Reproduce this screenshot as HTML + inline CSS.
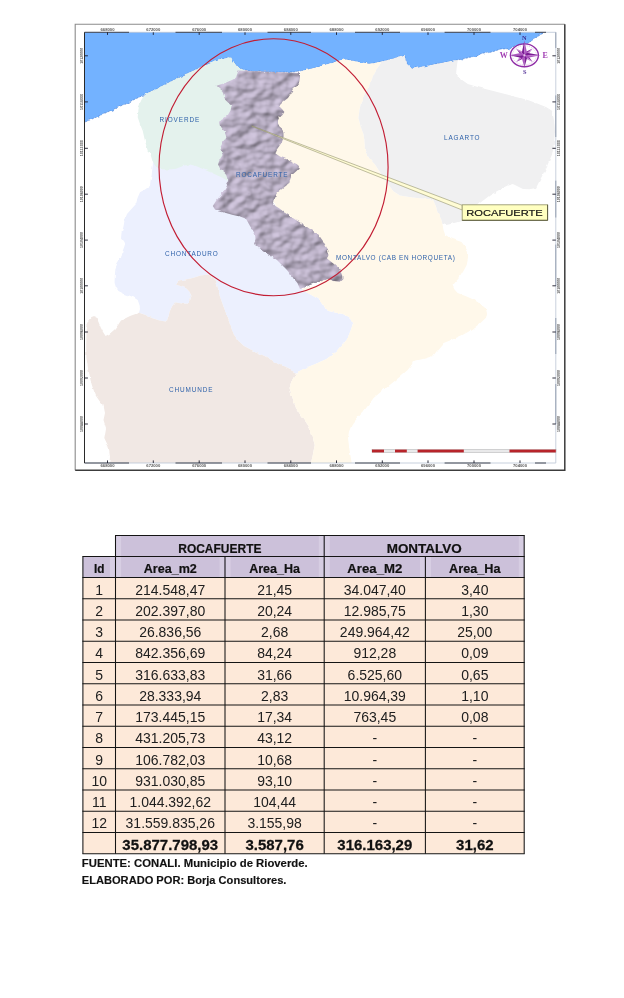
<!DOCTYPE html>
<html lang="es"><head><meta charset="utf-8"><title>ROCAFUERTE - MONTALVO</title>
<style>
html,body{margin:0;padding:0;background:#fff;}
body{width:624px;height:998px;overflow:hidden;position:relative;font-family:"Liberation Sans",sans-serif;}
svg{position:absolute;left:0;top:0;display:block;}
.lbl{font-family:"Liberation Sans",sans-serif;fill:#2f62aa;}
.tk{font-family:"Liberation Sans",sans-serif;fill:#3a3a3a;font-size:3.6px;font-weight:bold;opacity:0.85;}
.cp{font-family:"Liberation Serif",serif;font-weight:bold;}
.td{font-family:"Liberation Sans",sans-serif;font-size:14.8px;fill:#202020;}
.th{font-family:"Liberation Sans",sans-serif;font-size:12.8px;font-weight:bold;fill:#111;stroke:#111;stroke-width:0.2px;}
.tt{font-family:"Liberation Sans",sans-serif;font-size:14.4px;font-weight:bold;fill:#111;stroke:#111;stroke-width:0.25px;}
.ft{font-family:"Liberation Sans",sans-serif;font-size:11px;font-weight:bold;fill:#111;stroke:#111;stroke-width:0.15px;}
</style></head><body>
<svg width="624" height="998" viewBox="0 0 624 998">
<defs>
<filter id="hill" x="-5%" y="-5%" width="110%" height="110%" color-interpolation-filters="sRGB">
  <feTurbulence type="fractalNoise" baseFrequency="0.075 0.095" numOctaves="2" seed="11" result="n"/>
  <feColorMatrix in="n" type="matrix" values="0 0 0 0 0  0 0 0 0 0  0 0 0 0 0  0 0 0 1.0 0" result="na"/>
  <feTurbulence type="fractalNoise" baseFrequency="0.22" numOctaves="2" seed="9" result="t2"/>
  <feDisplacementMap in="SourceAlpha" in2="t2" scale="3.2" xChannelSelector="R" yChannelSelector="G" result="shape"/>
  <feGaussianBlur in="shape" stdDeviation="1.0" result="sa"/>
  <feComposite in="na" in2="sa" operator="arithmetic" k1="0" k2="1" k3="0.16" k4="0" result="h0"/>
  <feGaussianBlur in="h0" stdDeviation="0.7" result="h"/>
  <feDiffuseLighting in="h" surfaceScale="2.3" diffuseConstant="1.0" lighting-color="#d3c8e0" result="l">
    <feDistantLight azimuth="225" elevation="60"/>
  </feDiffuseLighting>
  <feGaussianBlur in="l" stdDeviation="0.5" result="lb"/>
  <feComposite in="lb" in2="shape" operator="in" result="c"/>
  <feGaussianBlur in="c" stdDeviation="0.35"/>
</filter>
<filter id="soft" x="-2%" y="-2%" width="104%" height="104%" color-interpolation-filters="sRGB">
  <feTurbulence type="fractalNoise" baseFrequency="0.14" numOctaves="2" seed="4" result="t"/>
  <feDisplacementMap in="SourceGraphic" in2="t" scale="3" xChannelSelector="R" yChannelSelector="G" result="d"/>
  <feGaussianBlur in="d" stdDeviation="0.55"/>
</filter>
<clipPath id="fr"><rect x="84.5" y="32.3" width="471.29999999999995" height="430.7"/></clipPath>
</defs>
<rect x="0" y="0" width="624" height="998" fill="#ffffff"/>

<g id="map">
<rect x="75.2" y="24.3" width="489.59999999999997" height="445.9" fill="#ffffff" stroke="none"/>
<path d="M75.2,470.2 L75.2,24.3 L564.8,24.3" fill="none" stroke="#8c8c8c" stroke-width="1.1"/>
<path d="M564.8,24.3 L564.8,470.2 L75.2,470.2" fill="none" stroke="#3c3c3c" stroke-width="1.5"/>
<g clip-path="url(#fr)" filter="url(#soft)">
<polygon points="76.5,125.9 76.5,24.3 553.0,24.3 545.0,32.3 540.0,34.9 533.5,39.5 527.7,43.4 521.0,44.6 514.0,46.2 510.0,48.7 500.8,48.9 495.0,51.0 491.4,52.0 478.0,55.5 464.4,58.6 451.0,61.3 437.5,63.7 424.0,66.5 412.0,68.7 407.0,64.0 405.5,60.0 404.5,55.0 401.0,55.8 393.8,58.6 382.0,61.5 370.0,63.7 360.0,62.3 350.0,60.3 343.6,59.2 333.0,62.5 323.0,65.6 315.0,67.8 307.0,69.7 302.0,70.6 293.0,72.0 277.0,72.3 261.0,72.0 252.0,71.3 243.8,69.9 240.0,68.0 236.0,65.3 233.5,61.5 231.0,57.6 228.0,57.6 222.0,59.4 212.7,62.3 200.0,67.8 186.0,74.0 165.0,84.5 144.3,94.7 120.0,106.3 100.0,115.5 84.5,122.3" fill="#73b2ff" stroke="#4273c6" stroke-width="0.55" stroke-dasharray="2.2 1.3"/>
<polygon points="139.0,313.0 140.0,309.0 139.3,304.5 137.7,300.0 133.5,297.3 128.7,295.2 123.5,293.5 118.5,291.0 116.0,287.5 114.6,283.0 114.8,275.5 115.5,268.0 117.5,263.0 121.0,257.7 122.5,251.5 124.7,245.5 123.5,242.0 121.0,238.5 121.5,233.0 123.4,227.0 124.5,220.5 127.0,214.0 131.0,209.5 136.0,204.0 137.5,198.0 140.0,192.3 145.0,189.5 150.0,186.0 150.5,181.0 151.6,175.6 153.0,163.0 156.5,160.0 230.0,160.0 250.0,215.0 280.0,255.0 300.0,285.0 300.0,289.0 307.7,293.0 314.0,296.5 319.8,300.0 323.5,305.0 326.5,310.5 335.0,312.5 343.0,314.0 348.5,317.5 353.4,322.0 351.0,329.5 348.0,337.0 342.5,344.0 336.6,351.0 331.5,355.2 326.5,359.0 316.0,363.7 306.0,367.7 296.0,372.7 296.0,372.7 287.0,368.5 278.0,364.0 271.5,360.0 264.5,356.0 254.0,351.3 244.0,346.0 238.5,341.0 233.8,334.6 230.5,326.0 227.4,316.7 223.5,306.5 219.7,296.0 218.0,288.5 216.0,280.8 212.5,277.0 208.0,274.4 200.5,275.6 192.8,278.0 185.5,279.5 178.7,280.6 176.5,282.3 176.0,284.6 181.0,286.2 186.4,288.5 189.5,291.8 191.5,296.0 190.2,300.0 187.7,303.8 181.0,303.5 174.9,302.6 172.0,306.5 169.7,311.5 168.5,316.5 167.0,321.8 159.5,320.5 151.8,318.0 145.5,315.0 139.0,312.8" fill="#ecf0fe"/>
<polygon points="87.7,324.4 89.3,320.5 91.5,318.0 94.2,317.0 96.7,318.2 98.7,322.5 100.5,327.0 103.0,332.0 105.6,336.0 110.0,333.5 114.6,329.5 118.0,325.0 121.0,320.5 130.0,316.0 139.0,312.8 145.5,315.0 151.8,318.0 159.5,320.5 167.0,321.8 168.5,316.5 169.7,311.5 172.0,306.5 174.9,302.6 181.0,303.5 187.7,303.8 190.2,300.0 191.5,296.0 189.5,291.8 186.4,288.5 181.0,286.2 176.0,284.6 176.5,282.3 178.7,280.6 185.5,279.5 192.8,278.0 200.5,275.6 208.0,274.4 212.5,277.0 216.0,280.8 218.0,288.5 219.7,296.0 223.5,306.5 227.4,316.7 230.5,326.0 233.8,334.6 238.5,341.0 244.0,346.0 254.0,351.3 264.5,356.0 271.5,360.0 278.0,364.0 287.0,368.5 296.0,372.7 292.0,380.5 289.5,388.0 292.5,398.0 296.0,408.0 299.5,413.5 303.0,418.0 306.5,423.0 309.7,428.0 312.5,436.5 314.7,445.0 313.0,454.0 311.0,463.0 311.0,472.0 109.3,472.0 109.3,463.0 110.0,456.7 108.5,446.7 104.3,438.0 106.0,428.0 103.5,420.0 105.0,413.0 103.5,405.5 99.5,401.0 96.0,396.0 94.3,392.0 92.0,385.5 90.0,378.0 88.0,368.0 86.4,357.7 86.2,347.0 86.4,337.0 86.6,331.0 87.7,324.4" fill="#f1e8e4"/>
<polygon points="300.0,73.0 302.0,70.6 307.0,69.7 315.0,67.8 323.0,65.6 333.0,62.5 343.6,59.2 350.0,60.3 360.0,62.3 370.0,63.7 382.0,61.5 379.0,66.0 376.0,70.0 373.6,74.5 371.5,80.5 369.0,86.0 366.0,92.0 363.0,97.5 361.0,103.0 359.5,110.0 358.4,117.5 360.5,126.0 363.5,134.0 364.7,142.5 365.0,151.0 369.5,158.5 375.0,164.6 379.5,171.5 383.7,178.0 388.5,185.0 393.8,191.6 400.0,195.6 408.0,196.8 417.0,198.0 425.5,198.8 433.0,199.6 436.0,206.5 438.5,213.6 441.3,219.5 442.5,224.0 443.5,230.0 445.5,235.8 453.5,239.3 461.5,242.0 465.3,247.0 468.0,252.0 468.0,258.5 466.7,265.0 463.5,271.0 460.0,276.7 456.0,281.5 452.6,285.6 454.5,289.5 457.7,293.0 466.0,296.2 474.0,299.7 480.5,304.0 486.0,308.7 487.0,313.5 486.0,317.7 480.5,323.0 474.0,328.0 468.0,332.0 461.5,335.6 452.5,339.5 443.6,343.0 438.0,349.5 433.0,356.0 423.0,359.0 412.8,361.3 410.8,366.0 407.7,370.0 399.0,377.5 390.4,384.5 382.0,391.0 373.6,398.0 368.5,405.0 363.5,411.5 357.0,418.5 351.7,425.0 349.0,431.5 348.0,438.0 349.5,450.0 351.7,463.0 351.7,472.0 311.0,472.0 311.0,463.0 313.0,454.0 314.7,445.0 312.5,436.5 309.7,428.0 306.5,423.0 303.0,418.0 299.5,413.5 296.0,408.0 292.5,398.0 289.5,388.0 292.0,380.5 296.0,372.7 296.0,372.7 306.0,367.7 316.0,363.7 326.5,359.0 331.5,355.2 336.6,351.0 342.5,344.0 348.0,337.0 351.0,329.5 353.4,322.0 348.5,317.5 343.0,314.0 335.0,312.5 326.5,310.5 323.5,305.0 319.8,300.0 314.0,296.5 307.7,293.0 300.0,289.0 320.0,285.0 310.0,240.0 285.0,215.0 270.0,200.0 280.0,160.0 272.0,150.0 272.0,100.0 290.0,80.0" fill="#fff8ea"/>
<polygon points="382.0,61.5 393.8,58.6 401.0,55.8 404.5,55.0 405.5,60.0 407.0,64.0 412.0,68.7 424.0,66.5 437.5,63.7 451.0,61.3 457.7,60.0 456.8,67.0 456.0,73.8 461.5,79.5 467.8,83.9 479.5,87.5 491.4,90.6 505.0,94.0 518.0,97.2 528.5,100.3 538.5,104.0 546.0,107.0 552.0,110.8 554.0,120.5 555.0,131.0 554.0,143.0 552.0,154.5 547.5,165.0 543.6,173.0 539.5,181.0 536.0,188.0 529.5,189.3 523.0,189.0 517.5,186.3 512.8,184.0 507.5,185.5 502.6,188.0 496.0,191.8 489.7,195.6 484.5,199.5 479.5,203.3 470.0,212.0 461.5,221.3 453.5,223.5 446.0,225.0 442.5,224.0 441.3,219.5 438.5,213.6 436.0,206.5 433.0,199.6 425.5,198.8 417.0,198.0 408.0,196.8 400.0,195.6 393.8,191.6 388.5,185.0 383.7,178.0 379.5,171.5 375.0,164.6 369.5,158.5 365.0,151.0 364.7,142.5 363.5,134.0 360.5,126.0 358.4,117.5 359.5,110.0 361.0,103.0 363.0,97.5 366.0,92.0 369.0,86.0 371.5,80.5 373.6,74.5 376.0,70.0 379.0,66.0 382.0,61.5" fill="#f0f0f1"/>
<polygon points="144.3,94.7 165.0,84.5 186.0,74.0 200.0,67.8 212.7,62.3 222.0,59.4 228.0,57.6 231.0,57.6 233.5,61.5 236.0,65.3 240.0,68.0 243.8,69.9 250.0,75.0 250.0,150.0 235.0,185.0 222.0,177.5 212.0,173.0 204.0,169.5 196.0,166.0 189.0,164.2 183.0,166.0 176.0,168.8 168.0,169.5 160.6,169.2 156.5,167.0 153.0,163.0 151.5,158.0 150.0,152.5 147.7,150.7 145.0,141.0 142.7,130.7 140.0,124.0 137.7,117.3 138.5,109.0 141.0,100.7 144.3,94.7" fill="#e4f2ed"/>
</g>
<polygon points="238.5,70.5 236.0,77.6 233.0,79.5 225.0,83.0 216.5,85.8 219.5,88.5 222.6,91.0 224.4,99.0 228.0,102.5 231.5,106.0 230.5,110.5 228.0,114.7 224.0,118.5 219.0,121.3 220.0,125.0 221.8,128.0 224.5,131.5 226.0,136.0 223.0,142.0 220.0,148.0 221.5,152.0 222.6,155.0 219.5,160.0 218.0,164.5 220.0,168.5 225.6,173.0 227.2,178.0 228.0,183.6 225.0,189.0 220.5,195.6 216.0,201.0 212.8,206.0 215.0,209.5 218.0,211.0 226.0,213.0 233.0,215.0 240.0,216.5 246.0,218.7 250.0,226.0 255.0,234.0 255.5,239.0 254.0,244.0 259.0,248.5 264.0,252.0 271.0,256.0 277.0,260.0 282.0,265.0 287.0,270.0 292.0,276.5 297.4,283.0 300.0,289.0 305.0,287.5 310.0,285.0 319.0,282.0 328.0,279.0 334.0,281.0 339.7,281.7 342.5,279.0 342.3,276.0 340.5,271.0 338.5,267.4 332.0,262.5 327.0,258.5 328.5,254.0 328.0,249.5 323.0,241.0 318.0,234.0 310.0,229.0 302.6,224.0 296.0,220.0 289.7,216.0 284.0,212.0 279.5,208.5 275.5,206.0 273.0,203.0 274.0,198.0 277.0,193.0 282.0,189.0 287.0,185.0 290.0,180.0 292.0,175.0 296.0,171.5 298.5,169.0 299.0,166.0 296.7,164.0 291.0,161.5 286.0,159.0 280.0,156.5 275.5,153.5 276.5,150.0 279.0,146.4 282.0,142.0 283.5,137.6 283.5,133.0 282.6,129.0 279.5,126.5 278.0,123.5 278.0,120.5 279.0,118.0 282.5,115.0 284.4,112.0 282.0,109.0 279.0,106.0 283.0,102.0 288.0,98.0 290.5,94.0 293.0,90.0 296.5,86.5 299.0,83.0 300.0,77.5 300.0,73.0" fill="#b3abc2" filter="url(#hill)"/>
<polygon points="251.8,125.8 251.8,126.2 462.2,210.0 462.2,205.3" fill="#fffcd4" stroke="#8a8a64" stroke-width="0.55" stroke-linejoin="round"/>
<ellipse cx="273.55" cy="167.2" rx="114.55" ry="128.5" fill="none" stroke="#c21d33" stroke-width="1.15"/>
<rect x="462.2" y="204.8" width="85.4" height="15.5" fill="#ffffc0" stroke="#9a9a72" stroke-width="0.9"/><path d="M547.6,204.8 V220.3 H462.2" fill="none" stroke="#5e5e40" stroke-width="1"/>
<text x="466.3" y="215.9" font-family="Liberation Sans, sans-serif" font-size="8.9" fill="#111" stroke="#111" stroke-width="0.18" textLength="76.5" lengthAdjust="spacingAndGlyphs">ROCAFUERTE</text>
<text class="lbl" x="159.5" y="122.0" font-size="6.4" textLength="39.8" lengthAdjust="spacing">RIOVERDE</text>
<text class="lbl" x="236" y="176.9" font-size="6.4" textLength="51.5" lengthAdjust="spacing">ROCAFUERTE</text>
<text class="lbl" x="165" y="255.6" font-size="6.4" textLength="52.8" lengthAdjust="spacing">CHONTADURO</text>
<text class="lbl" x="169" y="392.0" font-size="6.4" textLength="43.6" lengthAdjust="spacing">CHUMUNDE</text>
<text class="lbl" x="444" y="140.0" font-size="6.4" textLength="35.6" lengthAdjust="spacing">LAGARTO</text>
<text class="lbl" x="336" y="260.1" font-size="6.4" textLength="118.8" lengthAdjust="spacing">MONTALVO (CAB EN HORQUETA)</text>
<line x1="84.5" y1="32.3" x2="555.8" y2="32.3" stroke="#b9c4d4" stroke-width="0.8"/>
<line x1="84.5" y1="32.3" x2="129" y2="32.3" stroke="#262b38" stroke-width="0.85"/>
<line x1="175.5" y1="32.3" x2="222" y2="32.3" stroke="#262b38" stroke-width="0.85"/>
<line x1="267.5" y1="32.3" x2="311" y2="32.3" stroke="#262b38" stroke-width="0.85"/>
<line x1="355" y1="32.3" x2="400" y2="32.3" stroke="#262b38" stroke-width="0.85"/>
<line x1="444.6" y1="32.3" x2="490.5" y2="32.3" stroke="#262b38" stroke-width="0.85"/>
<line x1="535" y1="32.3" x2="546" y2="32.3" stroke="#262b38" stroke-width="0.85"/>
<line x1="84.5" y1="463.0" x2="555.8" y2="463.0" stroke="#b9c4d4" stroke-width="0.8"/>
<line x1="84.5" y1="463.0" x2="129" y2="463.0" stroke="#262b38" stroke-width="0.85"/>
<line x1="175.5" y1="463.0" x2="222" y2="463.0" stroke="#262b38" stroke-width="0.85"/>
<line x1="267.5" y1="463.0" x2="311" y2="463.0" stroke="#262b38" stroke-width="0.85"/>
<line x1="355" y1="463.0" x2="400" y2="463.0" stroke="#262b38" stroke-width="0.85"/>
<line x1="444.6" y1="463.0" x2="490.5" y2="463.0" stroke="#262b38" stroke-width="0.85"/>
<line x1="535" y1="463.0" x2="546" y2="463.0" stroke="#262b38" stroke-width="0.85"/>
<line x1="84.5" y1="32.3" x2="84.5" y2="463.0" stroke="#2a2a2a" stroke-width="1"/>
<line x1="555.8" y1="32.3" x2="555.8" y2="463.0" stroke="#c3ccda" stroke-width="0.9"/>
<line x1="555.8" y1="32.3" x2="555.8" y2="48" stroke="#8d98ab" stroke-width="0.9"/>
<line x1="555.8" y1="95.4" x2="555.8" y2="137" stroke="#8d98ab" stroke-width="0.9"/>
<line x1="555.8" y1="180.7" x2="555.8" y2="217.5" stroke="#8d98ab" stroke-width="0.9"/>
<line x1="555.8" y1="244.6" x2="555.8" y2="286" stroke="#8d98ab" stroke-width="0.9"/>
<line x1="555.8" y1="318" x2="555.8" y2="354" stroke="#8d98ab" stroke-width="0.9"/>
<line x1="555.8" y1="384" x2="555.8" y2="424" stroke="#8d98ab" stroke-width="0.9"/>
<line x1="107.5" y1="32.3" x2="107.5" y2="34.9" stroke="#1b1b2a" stroke-width="0.9"/>
<line x1="107.5" y1="463.0" x2="107.5" y2="460.4" stroke="#1b1b2a" stroke-width="0.9"/>
<text class="tk" x="107.5" y="31.3" text-anchor="middle" textLength="14" lengthAdjust="spacingAndGlyphs">668000</text>
<text class="tk" x="107.5" y="467.1" text-anchor="middle" textLength="14" lengthAdjust="spacingAndGlyphs">668000</text>
<line x1="153.3" y1="32.3" x2="153.3" y2="34.9" stroke="#1b1b2a" stroke-width="0.9"/>
<line x1="153.3" y1="463.0" x2="153.3" y2="460.4" stroke="#1b1b2a" stroke-width="0.9"/>
<text class="tk" x="153.3" y="31.3" text-anchor="middle" textLength="14" lengthAdjust="spacingAndGlyphs">672000</text>
<text class="tk" x="153.3" y="467.1" text-anchor="middle" textLength="14" lengthAdjust="spacingAndGlyphs">672000</text>
<line x1="199.2" y1="32.3" x2="199.2" y2="34.9" stroke="#1b1b2a" stroke-width="0.9"/>
<line x1="199.2" y1="463.0" x2="199.2" y2="460.4" stroke="#1b1b2a" stroke-width="0.9"/>
<text class="tk" x="199.2" y="31.3" text-anchor="middle" textLength="14" lengthAdjust="spacingAndGlyphs">676000</text>
<text class="tk" x="199.2" y="467.1" text-anchor="middle" textLength="14" lengthAdjust="spacingAndGlyphs">676000</text>
<line x1="245" y1="32.3" x2="245" y2="34.9" stroke="#1b1b2a" stroke-width="0.9"/>
<line x1="245" y1="463.0" x2="245" y2="460.4" stroke="#1b1b2a" stroke-width="0.9"/>
<text class="tk" x="245" y="31.3" text-anchor="middle" textLength="14" lengthAdjust="spacingAndGlyphs">680000</text>
<text class="tk" x="245" y="467.1" text-anchor="middle" textLength="14" lengthAdjust="spacingAndGlyphs">680000</text>
<line x1="290.8" y1="32.3" x2="290.8" y2="34.9" stroke="#1b1b2a" stroke-width="0.9"/>
<line x1="290.8" y1="463.0" x2="290.8" y2="460.4" stroke="#1b1b2a" stroke-width="0.9"/>
<text class="tk" x="290.8" y="31.3" text-anchor="middle" textLength="14" lengthAdjust="spacingAndGlyphs">684000</text>
<text class="tk" x="290.8" y="467.1" text-anchor="middle" textLength="14" lengthAdjust="spacingAndGlyphs">684000</text>
<line x1="336.5" y1="32.3" x2="336.5" y2="34.9" stroke="#1b1b2a" stroke-width="0.9"/>
<line x1="336.5" y1="463.0" x2="336.5" y2="460.4" stroke="#1b1b2a" stroke-width="0.9"/>
<text class="tk" x="336.5" y="31.3" text-anchor="middle" textLength="14" lengthAdjust="spacingAndGlyphs">688000</text>
<text class="tk" x="336.5" y="467.1" text-anchor="middle" textLength="14" lengthAdjust="spacingAndGlyphs">688000</text>
<line x1="382.3" y1="32.3" x2="382.3" y2="34.9" stroke="#1b1b2a" stroke-width="0.9"/>
<line x1="382.3" y1="463.0" x2="382.3" y2="460.4" stroke="#1b1b2a" stroke-width="0.9"/>
<text class="tk" x="382.3" y="31.3" text-anchor="middle" textLength="14" lengthAdjust="spacingAndGlyphs">692000</text>
<text class="tk" x="382.3" y="467.1" text-anchor="middle" textLength="14" lengthAdjust="spacingAndGlyphs">692000</text>
<line x1="428" y1="32.3" x2="428" y2="34.9" stroke="#1b1b2a" stroke-width="0.9"/>
<line x1="428" y1="463.0" x2="428" y2="460.4" stroke="#1b1b2a" stroke-width="0.9"/>
<text class="tk" x="428" y="31.3" text-anchor="middle" textLength="14" lengthAdjust="spacingAndGlyphs">696000</text>
<text class="tk" x="428" y="467.1" text-anchor="middle" textLength="14" lengthAdjust="spacingAndGlyphs">696000</text>
<line x1="474" y1="32.3" x2="474" y2="34.9" stroke="#1b1b2a" stroke-width="0.9"/>
<line x1="474" y1="463.0" x2="474" y2="460.4" stroke="#1b1b2a" stroke-width="0.9"/>
<text class="tk" x="474" y="31.3" text-anchor="middle" textLength="14" lengthAdjust="spacingAndGlyphs">700000</text>
<text class="tk" x="474" y="467.1" text-anchor="middle" textLength="14" lengthAdjust="spacingAndGlyphs">700000</text>
<line x1="520" y1="32.3" x2="520" y2="34.9" stroke="#1b1b2a" stroke-width="0.9"/>
<line x1="520" y1="463.0" x2="520" y2="460.4" stroke="#1b1b2a" stroke-width="0.9"/>
<text class="tk" x="520" y="31.3" text-anchor="middle" textLength="14" lengthAdjust="spacingAndGlyphs">704000</text>
<text class="tk" x="520" y="467.1" text-anchor="middle" textLength="14" lengthAdjust="spacingAndGlyphs">704000</text>
<line x1="84.5" y1="55.8" x2="87.9" y2="55.8" stroke="#1b1b2a" stroke-width="0.9"/>
<line x1="555.8" y1="55.8" x2="552.4" y2="55.8" stroke="#1b1b2a" stroke-width="0.9"/>
<text class="tk" transform="translate(82.6,55.8) rotate(-90)" text-anchor="middle" textLength="16" lengthAdjust="spacingAndGlyphs">10120000</text>
<text class="tk" transform="translate(560.4,55.8) rotate(-90)" text-anchor="middle" textLength="16" lengthAdjust="spacingAndGlyphs">10120000</text>
<line x1="84.5" y1="101.9" x2="87.9" y2="101.9" stroke="#1b1b2a" stroke-width="0.9"/>
<line x1="555.8" y1="101.9" x2="552.4" y2="101.9" stroke="#1b1b2a" stroke-width="0.9"/>
<text class="tk" transform="translate(82.6,101.9) rotate(-90)" text-anchor="middle" textLength="16" lengthAdjust="spacingAndGlyphs">10116000</text>
<text class="tk" transform="translate(560.4,101.9) rotate(-90)" text-anchor="middle" textLength="16" lengthAdjust="spacingAndGlyphs">10116000</text>
<line x1="84.5" y1="148.3" x2="87.9" y2="148.3" stroke="#1b1b2a" stroke-width="0.9"/>
<line x1="555.8" y1="148.3" x2="552.4" y2="148.3" stroke="#1b1b2a" stroke-width="0.9"/>
<text class="tk" transform="translate(82.6,148.3) rotate(-90)" text-anchor="middle" textLength="16" lengthAdjust="spacingAndGlyphs">10112000</text>
<text class="tk" transform="translate(560.4,148.3) rotate(-90)" text-anchor="middle" textLength="16" lengthAdjust="spacingAndGlyphs">10112000</text>
<line x1="84.5" y1="194.2" x2="87.9" y2="194.2" stroke="#1b1b2a" stroke-width="0.9"/>
<line x1="555.8" y1="194.2" x2="552.4" y2="194.2" stroke="#1b1b2a" stroke-width="0.9"/>
<text class="tk" transform="translate(82.6,194.2) rotate(-90)" text-anchor="middle" textLength="16" lengthAdjust="spacingAndGlyphs">10108000</text>
<text class="tk" transform="translate(560.4,194.2) rotate(-90)" text-anchor="middle" textLength="16" lengthAdjust="spacingAndGlyphs">10108000</text>
<line x1="84.5" y1="240.1" x2="87.9" y2="240.1" stroke="#1b1b2a" stroke-width="0.9"/>
<line x1="555.8" y1="240.1" x2="552.4" y2="240.1" stroke="#1b1b2a" stroke-width="0.9"/>
<text class="tk" transform="translate(82.6,240.1) rotate(-90)" text-anchor="middle" textLength="16" lengthAdjust="spacingAndGlyphs">10104000</text>
<text class="tk" transform="translate(560.4,240.1) rotate(-90)" text-anchor="middle" textLength="16" lengthAdjust="spacingAndGlyphs">10104000</text>
<line x1="84.5" y1="285.8" x2="87.9" y2="285.8" stroke="#1b1b2a" stroke-width="0.9"/>
<line x1="555.8" y1="285.8" x2="552.4" y2="285.8" stroke="#1b1b2a" stroke-width="0.9"/>
<text class="tk" transform="translate(82.6,285.8) rotate(-90)" text-anchor="middle" textLength="16" lengthAdjust="spacingAndGlyphs">10100000</text>
<text class="tk" transform="translate(560.4,285.8) rotate(-90)" text-anchor="middle" textLength="16" lengthAdjust="spacingAndGlyphs">10100000</text>
<line x1="84.5" y1="332" x2="87.9" y2="332" stroke="#1b1b2a" stroke-width="0.9"/>
<line x1="555.8" y1="332" x2="552.4" y2="332" stroke="#1b1b2a" stroke-width="0.9"/>
<text class="tk" transform="translate(82.6,332) rotate(-90)" text-anchor="middle" textLength="16" lengthAdjust="spacingAndGlyphs">10096000</text>
<text class="tk" transform="translate(560.4,332) rotate(-90)" text-anchor="middle" textLength="16" lengthAdjust="spacingAndGlyphs">10096000</text>
<line x1="84.5" y1="378" x2="87.9" y2="378" stroke="#1b1b2a" stroke-width="0.9"/>
<line x1="555.8" y1="378" x2="552.4" y2="378" stroke="#1b1b2a" stroke-width="0.9"/>
<text class="tk" transform="translate(82.6,378) rotate(-90)" text-anchor="middle" textLength="16" lengthAdjust="spacingAndGlyphs">10092000</text>
<text class="tk" transform="translate(560.4,378) rotate(-90)" text-anchor="middle" textLength="16" lengthAdjust="spacingAndGlyphs">10092000</text>
<line x1="84.5" y1="424" x2="87.9" y2="424" stroke="#1b1b2a" stroke-width="0.9"/>
<line x1="555.8" y1="424" x2="552.4" y2="424" stroke="#1b1b2a" stroke-width="0.9"/>
<text class="tk" transform="translate(82.6,424) rotate(-90)" text-anchor="middle" textLength="16" lengthAdjust="spacingAndGlyphs">10088000</text>
<text class="tk" transform="translate(560.4,424) rotate(-90)" text-anchor="middle" textLength="16" lengthAdjust="spacingAndGlyphs">10088000</text>
<rect x="372" y="449.6" width="184" height="2.8" fill="#e9e9ea" stroke="#9a9a9a" stroke-width="0.4"/>
<rect x="372" y="449.6" width="12" height="2.8" fill="#b8242a"/>
<rect x="395" y="449.6" width="11.800000000000011" height="2.8" fill="#b8242a"/>
<rect x="417.6" y="449.6" width="46.19999999999999" height="2.8" fill="#b8242a"/>
<rect x="509.5" y="449.6" width="46.299999999999955" height="2.8" fill="#b8242a"/>
<g stroke="#8f2ca6" fill="none">
<ellipse cx="524.4" cy="55.3" rx="14" ry="11.4" stroke-width="1.35"/>
<ellipse cx="524.4" cy="55.3" rx="12" ry="9.6" stroke-width="0.45" stroke="#c58ad0" stroke-dasharray="1.2 1.1"/>
</g>
<polygon points="524.4,55.3 532.7,48.5 524.4,52.5" fill="#8a26a2"/><polygon points="524.4,55.3 532.7,48.5 527.8,55.3" fill="#c27fd0"/>
<polygon points="524.4,55.3 532.7,62.1 527.8,55.3" fill="#8a26a2"/><polygon points="524.4,55.3 532.7,62.1 524.4,58.1" fill="#c27fd0"/>
<polygon points="524.4,55.3 516.1,62.1 524.4,58.1" fill="#8a26a2"/><polygon points="524.4,55.3 516.1,62.1 521.0,55.3" fill="#c27fd0"/>
<polygon points="524.4,55.3 516.1,48.5 521.0,55.3" fill="#8a26a2"/><polygon points="524.4,55.3 516.1,48.5 524.4,52.5" fill="#c27fd0"/>
<polygon points="524.4,55.3 524.4,40.5 521.8,52.7" fill="#7a1c94"/><polygon points="524.4,55.3 524.4,40.5 527.0,52.7" fill="#ad58c0"/>
<polygon points="524.4,55.3 540.2,55.3 527.0,52.7" fill="#7a1c94"/><polygon points="524.4,55.3 540.2,55.3 527.0,57.9" fill="#ad58c0"/>
<polygon points="524.4,55.3 524.4,67.5 527.0,57.9" fill="#7a1c94"/><polygon points="524.4,55.3 524.4,67.5 521.8,57.9" fill="#ad58c0"/>
<polygon points="524.4,55.3 509.4,55.3 521.8,57.9" fill="#7a1c94"/><polygon points="524.4,55.3 509.4,55.3 521.8,52.7" fill="#ad58c0"/>
<circle cx="524.4" cy="55.3" r="1.1" fill="#e7c9ee"/>
<text class="cp" x="524.4" y="40.2" text-anchor="middle" fill="#3c2c90" font-size="6.4">N</text>
<text class="cp" x="524.8" y="74.0" text-anchor="middle" fill="#5b3a9c" font-size="6.4">S</text>
<text class="cp" x="503.8" y="57.8" text-anchor="middle" fill="#a03cb2" font-size="8">W</text>
<text class="cp" x="545.2" y="58.1" text-anchor="middle" fill="#a03cb2" font-size="8">E</text>
</g>
<g id="table">
<rect x="115.5" y="535.50" width="408.70" height="21.26" fill="#ccc1da"/>
<rect x="82.9" y="556.40" width="441.30" height="21.26" fill="#ccc1da"/>
<rect x="82.9" y="577.40" width="441.30" height="276.40" fill="#fde9d9"/>
<rect x="116.1" y="535.50" width="5" height="21.26" fill="#d7cee3"/>
<rect x="324.8" y="535.50" width="5" height="21.26" fill="#d7cee3"/>
<rect x="116.1" y="556.40" width="5" height="21.26" fill="#d7cee3"/>
<rect x="225.6" y="556.40" width="5" height="21.26" fill="#d7cee3"/>
<rect x="324.8" y="556.40" width="5" height="21.26" fill="#d7cee3"/>
<rect x="426.0" y="556.40" width="5" height="21.26" fill="#d7cee3"/>
<rect x="109.9" y="556.40" width="5" height="21.26" fill="#d7cee3"/>
<rect x="318.8" y="535.50" width="4.6" height="21.26" fill="#d6cde2"/>
<rect x="518.8" y="535.50" width="4.6" height="21.26" fill="#d6cde2"/>
<rect x="219.6" y="556.40" width="4.6" height="21.26" fill="#d6cde2"/>
<rect x="318.8" y="556.40" width="4.6" height="21.26" fill="#d6cde2"/>
<rect x="420.0" y="556.40" width="4.6" height="21.26" fill="#d6cde2"/>
<rect x="518.8" y="556.40" width="4.6" height="21.26" fill="#d6cde2"/>
<g stroke="#141414" stroke-width="1.05" fill="none">
<line x1="115.0" y1="535.50" x2="524.7" y2="535.50"/>
<line x1="82.4" y1="556.40" x2="524.7" y2="556.40"/>
<line x1="82.4" y1="577.40" x2="524.7" y2="577.40"/>
<line x1="82.4" y1="598.66" x2="524.7" y2="598.66"/>
<line x1="82.4" y1="619.92" x2="524.7" y2="619.92"/>
<line x1="82.4" y1="641.18" x2="524.7" y2="641.18"/>
<line x1="82.4" y1="662.45" x2="524.7" y2="662.45"/>
<line x1="82.4" y1="683.71" x2="524.7" y2="683.71"/>
<line x1="82.4" y1="704.97" x2="524.7" y2="704.97"/>
<line x1="82.4" y1="726.23" x2="524.7" y2="726.23"/>
<line x1="82.4" y1="747.49" x2="524.7" y2="747.49"/>
<line x1="82.4" y1="768.75" x2="524.7" y2="768.75"/>
<line x1="82.4" y1="790.02" x2="524.7" y2="790.02"/>
<line x1="82.4" y1="811.28" x2="524.7" y2="811.28"/>
<line x1="82.4" y1="832.54" x2="524.7" y2="832.54"/>
<line x1="82.4" y1="853.80" x2="524.7" y2="853.80"/>
<line x1="82.9" y1="556.40" x2="82.9" y2="853.80"/>
<line x1="115.5" y1="535.50" x2="115.5" y2="853.80"/>
<line x1="324.2" y1="535.50" x2="324.2" y2="853.80"/>
<line x1="524.2" y1="535.50" x2="524.2" y2="853.80"/>
<line x1="225.0" y1="556.40" x2="225.0" y2="853.80"/>
<line x1="425.4" y1="556.40" x2="425.4" y2="853.80"/>
</g>
<text class="th" x="219.85" y="552.50" text-anchor="middle" textLength="83.2" lengthAdjust="spacingAndGlyphs">ROCAFUERTE</text>
<text class="th" x="424.20" y="552.50" text-anchor="middle" textLength="75" lengthAdjust="spacingAndGlyphs">MONTALVO</text>
<text class="th" x="99.20" y="572.80" text-anchor="middle" textLength="10.5" lengthAdjust="spacingAndGlyphs">Id</text>
<text class="th" x="170.25" y="572.80" text-anchor="middle" textLength="53.2" lengthAdjust="spacingAndGlyphs">Area_m2</text>
<text class="th" x="274.60" y="572.80" text-anchor="middle" textLength="50.8" lengthAdjust="spacingAndGlyphs">Area_Ha</text>
<text class="th" x="374.80" y="572.80" text-anchor="middle" textLength="55" lengthAdjust="spacingAndGlyphs">Area_M2</text>
<text class="th" x="474.80" y="572.80" text-anchor="middle" textLength="51.5" lengthAdjust="spacingAndGlyphs">Area_Ha</text>
<text class="td" transform="translate(99.20,594.60) scale(0.945,1)" text-anchor="middle">1</text>
<text class="td" transform="translate(170.25,594.60) scale(0.945,1)" text-anchor="middle">214.548,47</text>
<text class="td" transform="translate(274.60,594.60) scale(0.945,1)" text-anchor="middle">21,45</text>
<text class="td" transform="translate(374.80,594.60) scale(0.945,1)" text-anchor="middle">34.047,40</text>
<text class="td" transform="translate(474.80,594.60) scale(0.945,1)" text-anchor="middle">3,40</text>
<text class="td" transform="translate(99.20,615.86) scale(0.945,1)" text-anchor="middle">2</text>
<text class="td" transform="translate(170.25,615.86) scale(0.945,1)" text-anchor="middle">202.397,80</text>
<text class="td" transform="translate(274.60,615.86) scale(0.945,1)" text-anchor="middle">20,24</text>
<text class="td" transform="translate(374.80,615.86) scale(0.945,1)" text-anchor="middle">12.985,75</text>
<text class="td" transform="translate(474.80,615.86) scale(0.945,1)" text-anchor="middle">1,30</text>
<text class="td" transform="translate(99.20,637.12) scale(0.945,1)" text-anchor="middle">3</text>
<text class="td" transform="translate(170.25,637.12) scale(0.945,1)" text-anchor="middle">26.836,56</text>
<text class="td" transform="translate(274.60,637.12) scale(0.945,1)" text-anchor="middle">2,68</text>
<text class="td" transform="translate(374.80,637.12) scale(0.945,1)" text-anchor="middle">249.964,42</text>
<text class="td" transform="translate(474.80,637.12) scale(0.945,1)" text-anchor="middle">25,00</text>
<text class="td" transform="translate(99.20,658.38) scale(0.945,1)" text-anchor="middle">4</text>
<text class="td" transform="translate(170.25,658.38) scale(0.945,1)" text-anchor="middle">842.356,69</text>
<text class="td" transform="translate(274.60,658.38) scale(0.945,1)" text-anchor="middle">84,24</text>
<text class="td" transform="translate(374.80,658.38) scale(0.945,1)" text-anchor="middle">912,28</text>
<text class="td" transform="translate(474.80,658.38) scale(0.945,1)" text-anchor="middle">0,09</text>
<text class="td" transform="translate(99.20,679.65) scale(0.945,1)" text-anchor="middle">5</text>
<text class="td" transform="translate(170.25,679.65) scale(0.945,1)" text-anchor="middle">316.633,83</text>
<text class="td" transform="translate(274.60,679.65) scale(0.945,1)" text-anchor="middle">31,66</text>
<text class="td" transform="translate(374.80,679.65) scale(0.945,1)" text-anchor="middle">6.525,60</text>
<text class="td" transform="translate(474.80,679.65) scale(0.945,1)" text-anchor="middle">0,65</text>
<text class="td" transform="translate(99.20,700.91) scale(0.945,1)" text-anchor="middle">6</text>
<text class="td" transform="translate(170.25,700.91) scale(0.945,1)" text-anchor="middle">28.333,94</text>
<text class="td" transform="translate(274.60,700.91) scale(0.945,1)" text-anchor="middle">2,83</text>
<text class="td" transform="translate(374.80,700.91) scale(0.945,1)" text-anchor="middle">10.964,39</text>
<text class="td" transform="translate(474.80,700.91) scale(0.945,1)" text-anchor="middle">1,10</text>
<text class="td" transform="translate(99.20,722.17) scale(0.945,1)" text-anchor="middle">7</text>
<text class="td" transform="translate(170.25,722.17) scale(0.945,1)" text-anchor="middle">173.445,15</text>
<text class="td" transform="translate(274.60,722.17) scale(0.945,1)" text-anchor="middle">17,34</text>
<text class="td" transform="translate(374.80,722.17) scale(0.945,1)" text-anchor="middle">763,45</text>
<text class="td" transform="translate(474.80,722.17) scale(0.945,1)" text-anchor="middle">0,08</text>
<text class="td" transform="translate(99.20,743.43) scale(0.945,1)" text-anchor="middle">8</text>
<text class="td" transform="translate(170.25,743.43) scale(0.945,1)" text-anchor="middle">431.205,73</text>
<text class="td" transform="translate(274.60,743.43) scale(0.945,1)" text-anchor="middle">43,12</text>
<text class="td" transform="translate(374.80,743.43) scale(0.945,1)" text-anchor="middle">-</text>
<text class="td" transform="translate(474.80,743.43) scale(0.945,1)" text-anchor="middle">-</text>
<text class="td" transform="translate(99.20,764.69) scale(0.945,1)" text-anchor="middle">9</text>
<text class="td" transform="translate(170.25,764.69) scale(0.945,1)" text-anchor="middle">106.782,03</text>
<text class="td" transform="translate(274.60,764.69) scale(0.945,1)" text-anchor="middle">10,68</text>
<text class="td" transform="translate(374.80,764.69) scale(0.945,1)" text-anchor="middle">-</text>
<text class="td" transform="translate(474.80,764.69) scale(0.945,1)" text-anchor="middle">-</text>
<text class="td" transform="translate(99.20,785.95) scale(0.945,1)" text-anchor="middle">10</text>
<text class="td" transform="translate(170.25,785.95) scale(0.945,1)" text-anchor="middle">931.030,85</text>
<text class="td" transform="translate(274.60,785.95) scale(0.945,1)" text-anchor="middle">93,10</text>
<text class="td" transform="translate(374.80,785.95) scale(0.945,1)" text-anchor="middle">-</text>
<text class="td" transform="translate(474.80,785.95) scale(0.945,1)" text-anchor="middle">-</text>
<text class="td" transform="translate(99.20,807.22) scale(0.945,1)" text-anchor="middle">11</text>
<text class="td" transform="translate(170.25,807.22) scale(0.945,1)" text-anchor="middle">1.044.392,62</text>
<text class="td" transform="translate(274.60,807.22) scale(0.945,1)" text-anchor="middle">104,44</text>
<text class="td" transform="translate(374.80,807.22) scale(0.945,1)" text-anchor="middle">-</text>
<text class="td" transform="translate(474.80,807.22) scale(0.945,1)" text-anchor="middle">-</text>
<text class="td" transform="translate(99.20,828.48) scale(0.945,1)" text-anchor="middle">12</text>
<text class="td" transform="translate(170.25,828.48) scale(0.945,1)" text-anchor="middle">31.559.835,26</text>
<text class="td" transform="translate(274.60,828.48) scale(0.945,1)" text-anchor="middle">3.155,98</text>
<text class="td" transform="translate(374.80,828.48) scale(0.945,1)" text-anchor="middle">-</text>
<text class="td" transform="translate(474.80,828.48) scale(0.945,1)" text-anchor="middle">-</text>
<text class="tt" transform="translate(170.25,849.84) scale(1.04,1)" text-anchor="middle">35.877.798,93</text>
<text class="tt" transform="translate(274.60,849.84) scale(1.04,1)" text-anchor="middle">3.587,76</text>
<text class="tt" transform="translate(374.80,849.84) scale(1.04,1)" text-anchor="middle">316.163,29</text>
<text class="tt" transform="translate(474.80,849.84) scale(1.04,1)" text-anchor="middle">31,62</text>
</g>
<text class="ft" x="81.8" y="867.3" textLength="225.9" lengthAdjust="spacingAndGlyphs">FUENTE: CONALI. Municipio de Rioverde.</text>
<text class="ft" x="81.8" y="884.3" textLength="204.6" lengthAdjust="spacingAndGlyphs">ELABORADO POR: Borja Consultores.</text>
</svg>
</body></html>
